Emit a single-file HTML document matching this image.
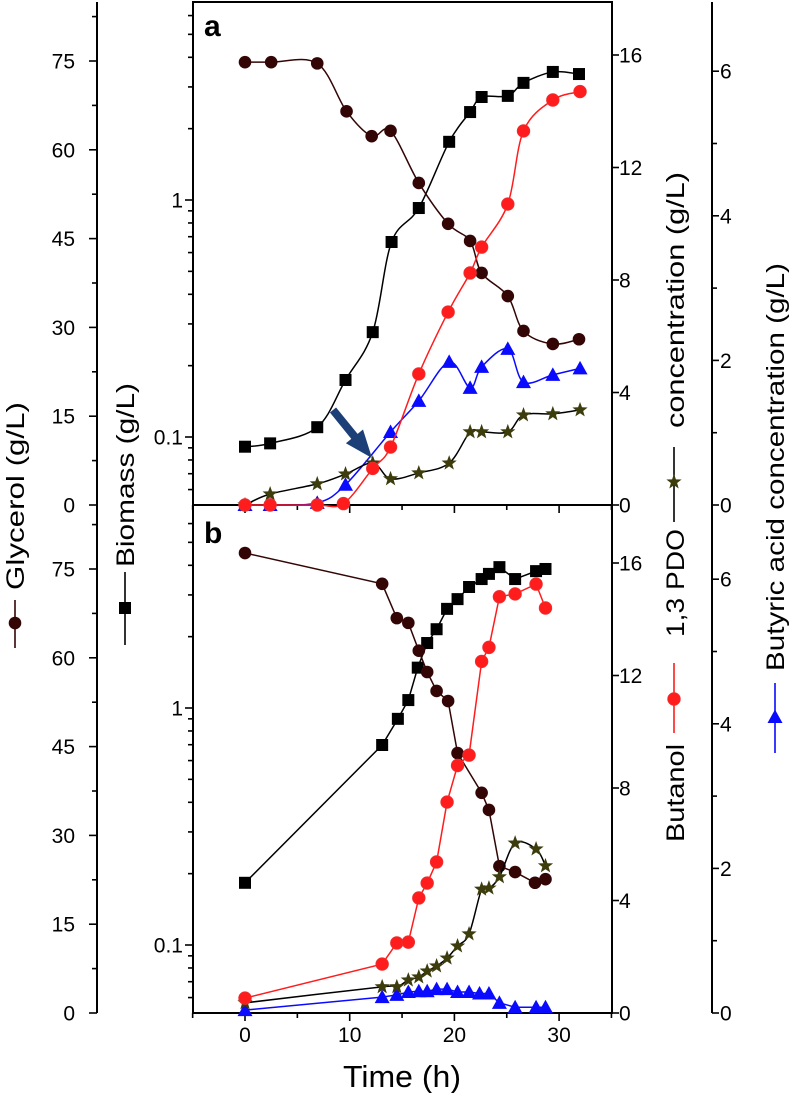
<!DOCTYPE html>
<html><head><meta charset="utf-8"><style>
html,body{margin:0;padding:0;background:#fff;}
svg{display:block;font-family:"Liberation Sans",Arial,sans-serif;}
</style></head><body>
<svg id="chart" width="792" height="1093" viewBox="0 0 792 1093" xmlns="http://www.w3.org/2000/svg">
<g id="axes"></g>
<g id="series"></g>
<g id="labels">
  <text x="204" y="36" font-size="30" font-weight="bold">a</text>
  <text x="204" y="543" font-size="30" font-weight="bold">b</text>
  <text x="402" y="1087" font-size="31" text-anchor="middle" textLength="118" lengthAdjust="spacingAndGlyphs">Time (h)</text>
  <text transform="translate(24,590) rotate(-90)" font-size="25" textLength="188" lengthAdjust="spacingAndGlyphs">Glycerol (g/L)</text>
  <text transform="translate(134,567) rotate(-90)" font-size="25" textLength="184" lengthAdjust="spacingAndGlyphs">Biomass (g/L)</text>
  <text transform="translate(684,842) rotate(-90)" font-size="25" textLength="98" lengthAdjust="spacingAndGlyphs">Butanol</text>
  <text transform="translate(684,637) rotate(-90)" font-size="25" textLength="108" lengthAdjust="spacingAndGlyphs">1,3 PDO</text>
  <text transform="translate(684,428) rotate(-90)" font-size="25" textLength="256" lengthAdjust="spacingAndGlyphs">concentration (g/L)</text>
  <text transform="translate(784,671) rotate(-90)" font-size="25" textLength="408" lengthAdjust="spacingAndGlyphs">Butyric acid concentration (g/L)</text>
</g>
<g id="legend"></g>
</svg>
<script>
// ---------- data ----------
const xTicks = [0, 10, 20, 30];
const glyTicks = [0, 15, 30, 45, 60, 75];
const pdoTicks = [0, 4, 8, 12, 16];
const butTicks = [0, 2, 4, 6];
const bioTickLabels = ["0.1", "1"];

// Panel a
const aGlyT = [0, 2.5, 6.9, 9.7, 12.1, 13.9, 16.6, 19.4, 21.5, 22.6, 25.1, 26.6, 29.4, 31.9];
const aGlyV = [74.8, 74.8, 74.6, 66.5, 62.3, 63.2, 54.4, 47.5, 44.6, 39.2, 35.3, 29.4, 27.2, 28.0];
const aBioT = [0, 2.4, 6.9, 9.6, 12.2, 14.0, 16.6, 19.5, 21.5, 22.6, 25.1, 26.6, 29.4, 31.9];
const aBioV = [0.091, 0.094, 0.110, 0.174, 0.277, 0.665, 0.925, 1.76, 2.35, 2.72, 2.75, 3.12, 3.47, 3.40];
const aButOlT = [0, 2.4, 6.9, 9.4, 12.2, 13.9, 16.6, 19.4, 21.5, 22.6, 25.1, 26.6, 29.4, 32.0];
const aButOlV = [0, 0, 0, 0.05, 1.3, 2.06, 4.66, 6.86, 8.25, 9.17, 10.7, 13.3, 14.4, 14.7];
const aPdoT = [0, 2.4, 6.9, 9.6, 12.2, 13.9, 16.6, 19.5, 21.5, 22.6, 25.1, 26.6, 29.4, 32.0];
const aPdoV = [0, 0.39, 0.75, 1.1, 1.49, 0.93, 1.14, 1.49, 2.6, 2.6, 2.6, 3.2, 3.24, 3.38];
const aAcidT = [0, 2.4, 6.9, 9.6, 13.9, 16.6, 19.5, 21.5, 22.6, 25.1, 26.6, 29.4, 32.0];
const aAcidV = [0, 0, 0.03, 0.28, 1.01, 1.44, 1.98, 1.62, 1.91, 2.16, 1.70, 1.80, 1.89];

// Panel b
const bGlyT = [0, 13.1, 14.5, 15.6, 16.6, 17.4, 18.3, 19.4, 20.3, 22.6, 23.3, 24.3, 25.8, 27.7, 28.7];
const bGlyV = [77.7, 72.5, 66.7, 65.9, 61.2, 57.6, 54.4, 52.7, 43.9, 37.2, 34.3, 24.8, 23.8, 22.0, 22.6];
const bBioT = [0, 13.1, 14.6, 15.6, 16.5, 17.4, 18.3, 19.3, 20.3, 21.4, 22.6, 23.3, 24.3, 25.8, 27.8, 28.7];
const bBioV = [0.183, 0.698, 0.90, 1.08, 1.48, 1.88, 2.15, 2.62, 2.88, 3.24, 3.5, 3.68, 3.93, 3.5, 3.78, 3.86];
const bButOlT = [0, 13.1, 14.5, 15.6, 16.6, 17.4, 18.3, 19.3, 20.3, 21.4, 22.6, 23.3, 24.3, 25.8, 27.8, 28.7];
const bButOlV = [0.53, 1.74, 2.49, 2.52, 4.09, 4.62, 5.37, 7.5, 8.8, 9.17, 12.5, 13.0, 14.8, 14.9, 15.25, 14.4];
const bPdoT = [0, 13.1, 14.5, 15.6, 16.6, 17.4, 18.3, 19.3, 20.3, 21.4, 22.6, 23.3, 24.3, 25.8, 27.8, 28.7];
const bPdoV = [0.36, 0.93, 0.93, 1.17, 1.28, 1.49, 1.67, 1.95, 2.38, 2.81, 4.4, 4.44, 4.84, 6.04, 5.83, 5.23];
const bAcidT = [0, 13.1, 14.5, 15.6, 16.6, 17.4, 18.3, 19.3, 20.3, 21.4, 22.4, 23.3, 24.3, 25.8, 27.8, 28.7];
const bAcidV = [0.04, 0.22, 0.25, 0.29, 0.30, 0.30, 0.33, 0.33, 0.29, 0.29, 0.27, 0.27, 0.14, 0.08, 0.08, 0.08];

// ---------- scales ----------
const NS = "http://www.w3.org/2000/svg";
const PL = 193, PR = 612;
const panels = [{top: 2, bottom: 505, off: 0}, {top: 505, bottom: 1013, off: 508}];
function xS(t) { return 245 + t * 10.47; }
function glyS(v, p) { return 505 + p.off - v * 5.92; }
function bioS(v, p) { return 200 + p.off - Math.log10(v) * 237; }
function pdoS(v, p) { return 505 + p.off - v * 28.125; }
function butS(v, p) { return 505 + p.off - v * 72.3; }

const axes = document.getElementById('axes');
const series = document.getElementById('series');
const legend = document.getElementById('legend');
function mk(tag, attrs, parent) {
  const e = document.createElementNS(NS, tag);
  for (const k in attrs) e.setAttribute(k, attrs[k]);
  parent.appendChild(e);
  return e;
}
function line(x1, y1, x2, y2, parent, w) {
  return mk('line', {x1, y1, x2, y2, stroke: '#000', 'stroke-width': w || 1.6}, parent);
}
function txt(x, y, s, anchor, parent, size) {
  const e = mk('text', {x, y, 'font-size': size || 21, 'text-anchor': anchor}, parent);
  e.textContent = s;
  return e;
}

// ---------- axes ----------
const frame = mk('rect', {x: PL, y: 2, width: PR - PL, height: 1011, fill: 'none', stroke: '#000', 'stroke-width': 2}, axes);


const divider = line(PL, 505, PR, 505, axes, 2);


const gAx = line(97, 2, 97, 1013, axes, 2);


const bAx = line(712, 2, 712, 1013, axes, 2);



panels.forEach(function (p) {
  // x ticks
  for (let t = -5; t <= 35; t += 5) {
    const major = xTicks.indexOf(t) >= 0;
    line(xS(t), p.bottom, xS(t), p.bottom + (major ? 8 : 5), axes);
  }
  if (p.off > 0) {
    xTicks.forEach(function (t) {
      const l = txt(xS(t), 1042, String(t), 'middle', axes);
      
      
    });
  }
  // glycerol ticks
  glyTicks.forEach(function (v) {
    const y = glyS(v, p);
    line(89, y, 97, y, axes);
    const l = txt(75, y + 7.5, String(v), 'end', axes);
    
    
  });
  for (let v = 7.5; v < 85; v += 15) { const y = glyS(v, p); if (y > p.top + 2) line(92, y, 97, y, axes); }
  // biomass log ticks
  for (let d = -2; d <= 0; d++) {
    for (let m = 1; m <= 9; m++) {
      const v = m * Math.pow(10, d);
      const y = bioS(v, p);
      if (y < p.top + 3 || y > p.bottom - 1) continue;
      line(m === 1 ? 185 : 188, y, PL, y, axes);
    }
  }
  bioTickLabels.forEach(function (s) {
    const y = bioS(parseFloat(s), p);
    const l = txt(183, y + 7.5, s, 'end', axes);
    
    
  });
  // pdo ticks
  pdoTicks.forEach(function (v) {
    const y = pdoS(v, p);
    line(PR, y, PR + 7, y, axes);
    const l = txt(619, y + 7.5, String(v), 'start', axes);
    
    
  });
  // butyric ticks
  for (let v = 0; v <= 6; v++) {
    const y = butS(v, p);
    const major = butTicks.indexOf(v) >= 0;
    line(712, y, 712 + (major ? 7 : 5), y, axes);
    if (major) {
      const l = txt(720, y + 7.5, String(v), 'start', axes);
      
      
    }
  }
});

// ---------- series ----------
function pathD(pts, smooth) {
  let d = 'M' + pts[0][0] + ',' + pts[0][1];
  for (let i = 1; i < pts.length; i++) {
    if (!smooth) { d += ' L' + pts[i][0] + ',' + pts[i][1]; continue; }
    const p0 = pts[Math.max(0, i - 2)], p1 = pts[i - 1], p2 = pts[i], p3 = pts[Math.min(pts.length - 1, i + 1)];
    const c1x = p1[0] + (p2[0] - p0[0]) / 6, c1y = p1[1] + (p2[1] - p0[1]) / 6;
    const c2x = p2[0] - (p3[0] - p1[0]) / 6, c2y = p2[1] - (p3[1] - p1[1]) / 6;
    d += ' C' + c1x + ',' + c1y + ' ' + c2x + ',' + c2y + ' ' + p2[0] + ',' + p2[1];
  }
  return d;
}
function marker(kind, x, y, g) {
  let e;
  if (kind === 'gly') e = mk('circle', {cx: x, cy: y, r: 6.3, fill: '#330505'}, g);
  else if (kind === 'bio') e = mk('rect', {x: x - 6, y: y - 6, width: 12, height: 12, fill: '#000'}, g);
  else if (kind === 'butol') e = mk('circle', {cx: x, cy: y, r: 6.3, fill: '#ff1c1c', stroke: '#ee3030', 'stroke-width': 0.8}, g);
  else if (kind === 'acid') e = mk('polygon', {points: (x) + ',' + (y - 7.5) + ' ' + (x - 7.5) + ',' + (y + 6) + ' ' + (x + 7.5) + ',' + (y + 6), fill: '#0a0aff'}, g);
  else {
    let pts = [];
    for (let k = 0; k < 10; k++) {
      const r = k % 2 ? 3.3 : 8, a = -Math.PI / 2 + k * Math.PI / 5;
      pts.push((x + r * Math.cos(a)).toFixed(2) + ',' + (y + r * Math.sin(a)).toFixed(2));
    }
    e = mk('polygon', {points: pts.join(' '), fill: '#3c3c0c'}, g);
  }
  return e;
}
function drawSeries(name, T, V, scale, p, kind, color, smooth) {
  const g = mk('g', {}, series);
  
  
  const pts = T.map(function (t, i) { return [xS(t), Math.min(p.bottom, scale(V[i], p))]; });
  const path = mk('path', {d: pathD(pts, smooth), fill: 'none', stroke: color, 'stroke-width': 1.5}, g);
  
  
  pts.forEach(function (pt) {
    const m = marker(kind, pt[0], pt[1], g);
    
    
  });
}
const pa = panels[0], pb = panels[1];
drawSeries('a-biomass', aBioT, aBioV, bioS, pa, 'bio', '#000', true);
drawSeries('a-glycerol', aGlyT, aGlyV, glyS, pa, 'gly', '#330505', true);
drawSeries('a-butyric-acid', aAcidT, aAcidV, butS, pa, 'acid', '#0a0aff', true);
drawSeries('a-pdo', aPdoT, aPdoV, pdoS, pa, 'star', '#000', true);
drawSeries('a-butanol', aButOlT, aButOlV, pdoS, pa, 'butol', '#ff1c1c', true);
drawSeries('b-biomass', bBioT, bBioV, bioS, pb, 'bio', '#000', false);
drawSeries('b-glycerol', bGlyT, bGlyV, glyS, pb, 'gly', '#330505', false);
drawSeries('b-butyric-acid', bAcidT, bAcidV, butS, pb, 'acid', '#0a0aff', false);
drawSeries('b-pdo', bPdoT, bPdoV, pdoS, pb, 'star', '#000', true);
drawSeries('b-butanol', bButOlT, bButOlV, pdoS, pb, 'butol', '#ff1c1c', false);

// ---------- arrow annotation ----------
(function () {
  const tx = 333, ty = 410, hx = 372, hy = 458;
  const dx = hx - tx, dy = hy - ty, L = Math.hypot(dx, dy);
  const ux = dx / L, uy = dy / L, nx = -uy, ny = ux;
  const bx = tx + ux * L * 0.55, by = ty + uy * L * 0.55;
  const pts = [
    [tx + nx * 4, ty + ny * 4], [bx + nx * 4, by + ny * 4], [bx + nx * 11, by + ny * 11],
    [hx, hy], [bx - nx * 11, by - ny * 11], [bx - nx * 4, by - ny * 4], [tx - nx * 4, ty - ny * 4]
  ];
  const a = mk('polygon', {points: pts.map(function (q) { return q[0].toFixed(1) + ',' + q[1].toFixed(1); }).join(' '), fill: '#1d3f78'}, series);
  
  
})();

// ---------- legend symbols in axis titles ----------
function legendSym(name, x, y1, y2, cy, kind, color) {
  const g = mk('g', {}, legend);
  
  
  mk('line', {x1: x, y1: y1, x2: x, y2: y2, stroke: color, 'stroke-width': 1.6}, g);
  marker(kind, x, cy, g);
}
legendSym('legend-glycerol', 15, 600, 648, 623, 'gly', '#330505');
legendSym('legend-biomass', 125, 572, 645, 608, 'bio', '#000');
legendSym('legend-butanol', 674, 663, 733, 699, 'butol', '#ff1c1c');
legendSym('legend-pdo', 674, 447, 522, 482, 'star', '#000');
legendSym('legend-butyric-acid', 775, 683, 753, 717, 'acid', '#0a0aff');
</script>
</body></html>
